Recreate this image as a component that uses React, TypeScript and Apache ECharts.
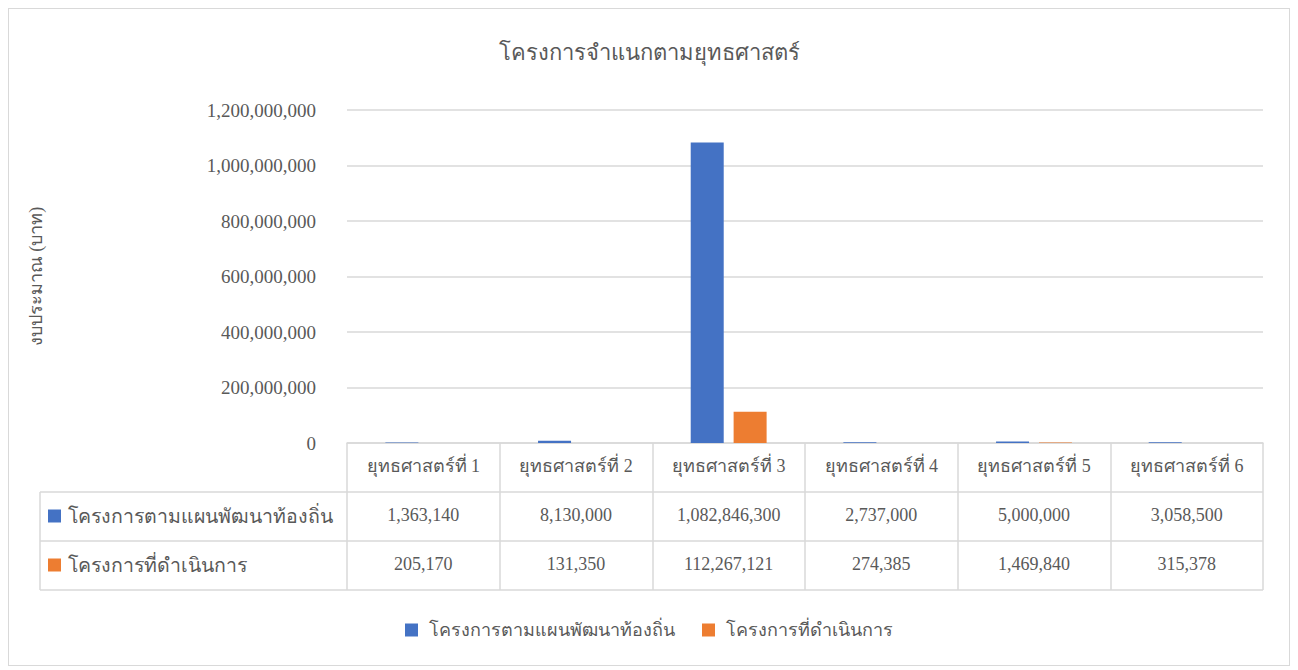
import React, { useEffect, useRef } from "react";
import * as echarts from "echarts";

const chartTitle = "โครงการจำแนกตามยุทธศาสตร์";
const yAxisTitle = "งบประมาณ (บาท)";
const categories = ["ยุทธศาสตร์ที่ 1", "ยุทธศาสตร์ที่ 2", "ยุทธศาสตร์ที่ 3", "ยุทธศาสตร์ที่ 4", "ยุทธศาสตร์ที่ 5", "ยุทธศาสตร์ที่ 6"];
const seriesNames = ["โครงการตามแผนพัฒนาท้องถิ่น", "โครงการที่ดำเนินการ"];
const planValues = [1363140, 8130000, 1082846300, 2737000, 5000000, 3058500];
const doneValues = [205170, 131350, 112267121, 274385, 1469840, 315378];
const yTicks = { min: 0, max: 1200000000, interval: 200000000 };
const colors = ["#4472C4", "#ED7D31"];

const FONT = '"Liberation Serif", "Times New Roman", serif';
const TEXT = "#595959";
const GRID = "#d9d9d9";

const fmt = (v: number) => v.toLocaleString("en-US");

export default function App() {
  const ref = useRef<HTMLDivElement>(null);
  useEffect(() => {
    if (!ref.current) return;
    const chart = echarts.init(ref.current, undefined, { renderer: "svg" });
    // layout in chart coordinates
    const gl = 338, gr = 26, gt = 101, gb = 222;
    const W = 1280;
    const axisY = 434;
    const rowH = 49;
    const tableLeft = 31;
    const tableRight = W - gr;
    const graphic: any[] = [];
    for (let i = 1; i <= 3; i++) {
      graphic.push({
        type: "line",
        shape: { x1: tableLeft, y1: axisY + rowH * i, x2: tableRight, y2: axisY + rowH * i },
        style: { stroke: GRID, lineWidth: 1.5 },
        silent: true,
      });
    }
    graphic.push({
      type: "line",
      shape: { x1: tableLeft, y1: axisY + rowH, x2: tableLeft, y2: axisY + rowH * 3 },
      style: { stroke: GRID, lineWidth: 1.5 },
      silent: true,
    });
    seriesNames.forEach((n, i) => {
      const cy = axisY + rowH * (i + 1) + rowH / 2;
      graphic.push({
        type: "rect",
        shape: { x: 39, y: cy - 7, width: 13, height: 13 },
        style: { fill: colors[i] },
        silent: true,
      });
      graphic.push({
        type: "text",
        x: 59,
        y: cy,
        style: { text: n, fill: TEXT, font: `19.5px ${FONT}`, textVerticalAlign: "middle", textAlign: "left" },
        silent: true,
      });
    });

    chart.setOption({
      animation: false,
      color: colors,
      textStyle: { fontFamily: FONT, color: TEXT },
      title: {
        text: chartTitle,
        left: "center",
        top: 27,
        textStyle: { fontFamily: FONT, fontSize: 22, fontWeight: "normal", color: TEXT },
      },
      grid: { left: gl, right: gr, top: gt, bottom: gb, containLabel: false },
      legend: {
        data: seriesNames,
        bottom: 21,
        left: "center",
        itemWidth: 13,
        itemHeight: 13,
        itemGap: 27,
        icon: "rect",
        textStyle: { fontFamily: FONT, fontSize: 18, color: TEXT, padding: [0, 0, 0, 6] },
      },
      xAxis: [
        {
          type: "category",
          data: categories,
          axisLine: { show: true, lineStyle: { color: GRID, width: 1.5 } },
          axisTick: { show: true, length: rowH * 3, lineStyle: { color: GRID, width: 1.5 } },
          axisLabel: { fontFamily: FONT, fontSize: 18, color: TEXT, margin: 14, interval: 0 },
        },
        {
          type: "category",
          data: planValues.map(fmt),
          position: "bottom",
          offset: rowH,
          axisLine: { show: false },
          axisTick: { show: false },
          axisLabel: { fontFamily: FONT, fontSize: 18, color: TEXT, margin: 14, interval: 0 },
        },
        {
          type: "category",
          data: doneValues.map(fmt),
          position: "bottom",
          offset: rowH * 2,
          axisLine: { show: false },
          axisTick: { show: false },
          axisLabel: { fontFamily: FONT, fontSize: 18, color: TEXT, margin: 14, interval: 0 },
        },
      ],
      yAxis: {
        type: "value",
        min: yTicks.min,
        max: yTicks.max,
        interval: yTicks.interval,
        name: yAxisTitle,
        nameLocation: "middle",
        nameRotate: 90,
        nameGap: 302,
        nameTextStyle: { fontFamily: FONT, fontSize: 18, color: TEXT },
        axisLine: { show: false },
        axisTick: { show: false },
        splitLine: { lineStyle: { color: GRID, width: 1.5 } },
        axisLabel: {
          fontFamily: FONT,
          fontSize: 19,
          color: TEXT,
          margin: 31,
          formatter: (v: number) => fmt(v),
        },
      },
      series: [
        { name: seriesNames[0], type: "bar", data: planValues, barWidth: 33, barGap: "30%", xAxisIndex: 0 },
        { name: seriesNames[1], type: "bar", data: doneValues, barWidth: 33, barGap: "30%", xAxisIndex: 0 },
      ],
      graphic,
    });
    return () => chart.dispose();
  }, []);
  return (
    <div
      style={{
        width: 1282,
        height: 658,
        border: "1px solid #d9d9d9",
        boxSizing: "border-box",
        background: "#fff",
      }}
    >
      <div ref={ref} style={{ width: 1280, height: 656 }} />
    </div>
  );
}
